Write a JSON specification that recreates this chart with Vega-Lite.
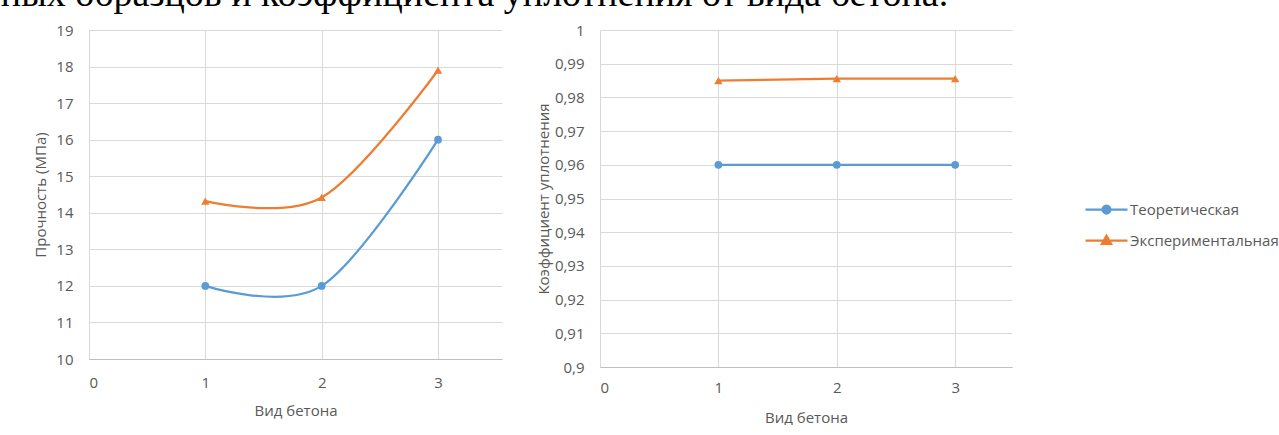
{
  "$schema": "https://vega.github.io/schema/vega-lite/v6.json",
  "background": "white",
  "padding": {"left": 0, "top": -24, "right": 0, "bottom": 0},
  "title": {
    "text": "ных образцов и коэффициента уплотнения от вида бетона.",
    "anchor": "start",
    "font": "Liberation Serif",
    "fontSize": 38,
    "fontWeight": "normal",
    "color": "#000000",
    "offset": 9,
    "dx": -33
  },
  "datasets": {
    "strength": [
      {"vid": 1, "series": "Теоретическая", "value": 12},
      {"vid": 2, "series": "Теоретическая", "value": 12},
      {"vid": 3, "series": "Теоретическая", "value": 16},
      {"vid": 1, "series": "Экспериментальная", "value": 14.32},
      {"vid": 2, "series": "Экспериментальная", "value": 14.42},
      {"vid": 3, "series": "Экспериментальная", "value": 17.9}
    ],
    "density": [
      {"vid": 1, "series": "Теоретическая", "value": 0.96},
      {"vid": 2, "series": "Теоретическая", "value": 0.96},
      {"vid": 3, "series": "Теоретическая", "value": 0.96},
      {"vid": 1, "series": "Экспериментальная", "value": 0.985},
      {"vid": 2, "series": "Экспериментальная", "value": 0.9856},
      {"vid": 3, "series": "Экспериментальная", "value": 0.9856}
    ]
  },
  "spacing": 34,
  "config": {
    "view": {"stroke": null},
    "axis": {
      "labelFont": "Open Sans",
      "labelFontSize": 15,
      "labelColor": "#595959",
      "titleFont": "Open Sans",
      "titleFontSize": 15,
      "titleFontWeight": "normal",
      "titleColor": "#595959",
      "gridColor": "#D9D9D9",
      "gridWidth": 1,
      "domainColor": "#BFBFBF",
      "ticks": false
    },
    "legend": {
      "labelFont": "Open Sans",
      "labelFontSize": 15,
      "labelColor": "#595959",
      "labelLimit": 200
    }
  },
  "hconcat": [
    {
      "width": 413,
      "height": 329,
      "data": {"name": "strength"},
      "encoding": {
        "x": {
          "field": "vid", "type": "quantitative",
          "scale": {"domain": [0, 3.55], "nice": false, "zero": false},
          "axis": {"title": "Вид бетона", "values": [0, 1, 2, 3], "grid": true, "labelPadding": 16, "titlePadding": 13}
        },
        "y": {
          "field": "value", "type": "quantitative",
          "scale": {"domain": [10, 19], "nice": false, "zero": false},
          "axis": {"title": "Прочность (МПа)", "values": [10, 11, 12, 13, 14, 15, 16, 17, 18, 19], "domain": false, "labelPadding": 16, "titlePadding": 7}
        }
      },
      "layer": [
        {
          "mark": {"type": "line", "interpolate": "cardinal", "strokeWidth": 2.25},
          "encoding": {
            "color": {
              "field": "series", "type": "nominal",
              "scale": {"domain": ["Теоретическая", "Экспериментальная"], "range": ["#5B9BD5", "#ED7D31"]},
              "legend": {
                "title": null,
                "orient": "none",
                "legendX": 1006,
                "legendY": 168,
                "symbolSize": 400,
                "symbolStrokeWidth": 2.25,
                "symbolType": {"expr": "datum.value === 'Теоретическая' ? 'M-2.1,0H2.1M0.4,0A0.4,0.4,0,1,1,-0.4,0A0.4,0.4,0,1,1,0.4,0Z' : 'M-2.1,0H2.1M0,-0.48L0.46,0.34L-0.46,0.34Z'"},
                "symbolFillColor": {"expr": "datum.value === 'Теоретическая' ? '#5B9BD5' : '#ED7D31'"},
                "symbolOpacity": 1,
                "labelOffset": 12,
                "rowPadding": 11
              }
            }
          }
        },
        {
          "transform": [{"filter": "datum.series === 'Теоретическая'"}],
          "mark": {"type": "point", "filled": true, "shape": "circle", "size": 60, "opacity": 1, "color": "#5B9BD5"}
        },
        {
          "transform": [{"filter": "datum.series === 'Экспериментальная'"}],
          "mark": {"type": "point", "filled": true, "shape": "triangle-up", "size": 70, "opacity": 1, "color": "#ED7D31"}
        }
      ]
    },
    {
      "width": 412,
      "height": 337,
      "data": {"name": "density"},
      "encoding": {
        "x": {
          "field": "vid", "type": "quantitative",
          "scale": {"domain": [0, 3.48], "nice": false, "zero": false},
          "axis": {"title": "Вид бетона", "values": [0, 1, 2, 3], "grid": true, "labelPadding": 13, "titlePadding": 15}
        },
        "y": {
          "field": "value", "type": "quantitative",
          "scale": {"domain": [0.9, 1], "nice": false, "zero": false},
          "axis": {"title": "Коэффициент уплотнения", "values": [0.9, 0.91, 0.92, 0.93, 0.94, 0.95, 0.96, 0.97, 0.98, 0.99, 1], "labelExpr": "replace(format(datum.value, '.2~f'), '.', ',')", "domain": false, "labelPadding": 16, "titlePadding": 3}
        }
      },
      "layer": [
        {
          "mark": {"type": "line", "strokeWidth": 2.25},
          "encoding": {
            "color": {
              "field": "series", "type": "nominal",
              "scale": {"domain": ["Теоретическая", "Экспериментальная"], "range": ["#5B9BD5", "#ED7D31"]}
            }
          }
        },
        {
          "transform": [{"filter": "datum.series === 'Теоретическая'"}],
          "mark": {"type": "point", "filled": true, "shape": "circle", "size": 60, "opacity": 1, "color": "#5B9BD5"}
        },
        {
          "transform": [{"filter": "datum.series === 'Экспериментальная'"}],
          "mark": {"type": "point", "filled": true, "shape": "triangle-up", "size": 70, "opacity": 1, "color": "#ED7D31"}
        }
      ]
    }
  ]
}
